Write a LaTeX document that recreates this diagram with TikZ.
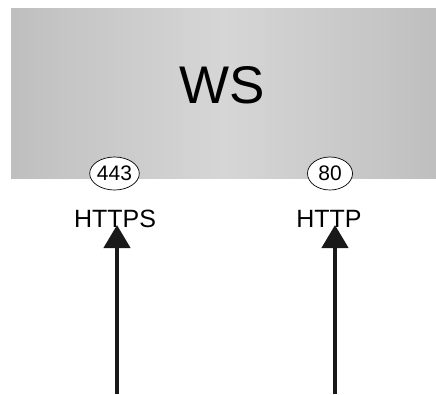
\documentclass[tikz,border=0pt]{standalone}
\usepackage{fontspec}
\setmainfont{Liberation Sans}
\usetikzlibrary{shapes.geometric,arrows.meta}

\definecolor{wscenter}{RGB}{214,214,214}
\definecolor{wsmid}{RGB}{196,196,196}
\definecolor{wsedge}{RGB}{164,164,164}
\pgfdeclarehorizontalshading{wsshade}{100bp}{color(0bp)=(wsedge); color(30bp)=(wsmid); color(50bp)=(wscenter); color(70bp)=(wsmid); color(100bp)=(wsedge)}

\begin{document}
\begin{tikzpicture}[x=1pt,y=-1pt,
  port/.style={ellipse,draw=black,fill=white,line width=0.7pt,minimum width=45pt,minimum height=33pt,inner sep=0pt,font=\fontsize{21}{23}\selectfont},
  proto/.style={anchor=base,inner sep=0pt,font=\fontsize{25}{28}\selectfont},
  inarrow/.style={line width=4.5pt,draw=black!90,-{Triangle[width=26pt,length=23pt]}}]
\useasboundingbox (0,0) rectangle (436,394);
% web server box
\shade[shading=wsshade] (11,8) rectangle (436,178);
\node[anchor=base,inner sep=0pt,font=\fontsize{53}{60}\selectfont] (ws) at (222,103) {WS};
% ports
\node[port] (p443) at (114.5,173.5) {443};
\node[port] (p80) at (330,173.5) {80};
\node[proto] (https) at (115,227) {HTTPS};
\node[proto] (http) at (329,227) {HTTP};
% incoming requests
\coordinate (in443) at (117,394);
\coordinate (in80) at (335,394);
\draw[inarrow] (in443) -- ([yshift=2pt]in443 |- https.base);
\draw[inarrow] (in80) -- ([yshift=2pt]in80 |- http.base);
\end{tikzpicture}
\end{document}
